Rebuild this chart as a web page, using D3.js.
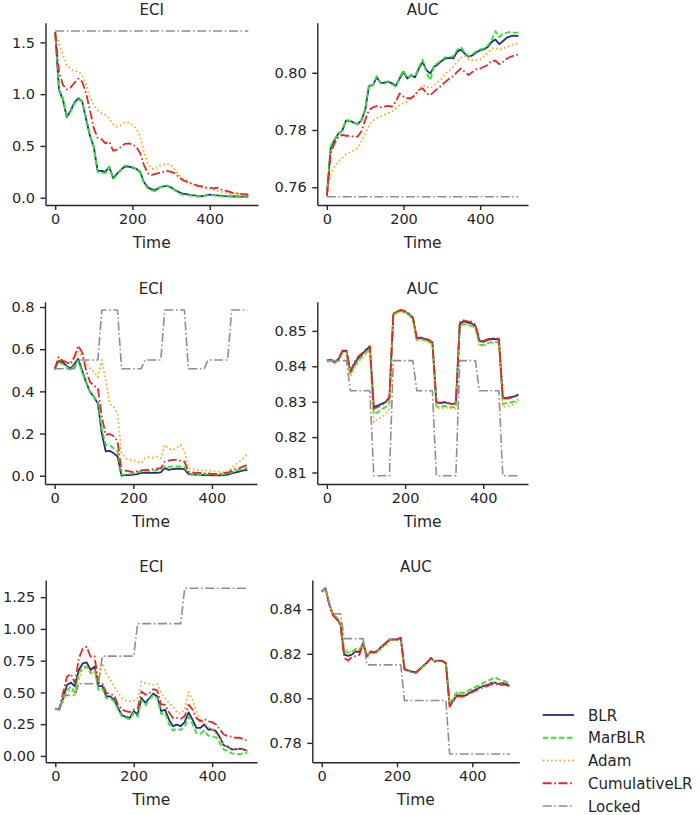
<!DOCTYPE html>
<html><head><meta charset="utf-8">
<script src="https://cdn.jsdelivr.net/npm/d3@7"></script>
<style>
body{margin:0;background:#fff}
svg{display:block}
text{font-family:"DejaVu Sans",sans-serif;fill:#262626}
</style>
</head><body>
<svg id="c" width="700" height="815"></svg>
<script>
// ---------- DATA ----------
const seriesNames = ["BLR","MarBLR","Adam","CumulativeLR","Locked"];
const time500 = [0,10,20,30,40,50,60,70,80,90,100,110,120,130,140,150,160,170,180,190,200,210,220,230,240,250,260,270,280,290,300,310,320,330,340,350,360,370,380,390,400,410,420,430,440,450,460,470,480,490,500];
const time490 = [0,10,20,30,40,50,60,70,80,90,100,110,120,130,140,150,160,170,180,190,200,210,220,230,240,250,260,270,280,290,300,310,320,330,340,350,360,370,380,390,400,410,420,430,440,450,460,470,480,490];
const xTicks = [0,200,400];
const panelTitles = ["ECI","AUC","ECI","AUC","ECI","AUC"];
const xLabel = "Time";

// Row 1 ECI
const eci1BLR = [1.60,1.04,0.95,0.78,0.84,0.92,0.96,0.93,0.76,0.60,0.49,0.26,0.26,0.25,0.30,0.19,0.23,0.27,0.30,0.30,0.29,0.28,0.25,0.15,0.10,0.08,0.075,0.10,0.11,0.115,0.10,0.075,0.055,0.04,0.035,0.025,0.022,0.016,0.016,0.022,0.03,0.025,0.022,0.02,0.016,0.013,0.013,0.012,0.011,0.01,0.01];
const eci1MarBLR = [1.60,1.05,0.96,0.79,0.83,0.91,0.95,0.93,0.77,0.61,0.49,0.25,0.24,0.24,0.30,0.18,0.22,0.27,0.31,0.31,0.30,0.28,0.24,0.14,0.09,0.07,0.065,0.10,0.11,0.12,0.10,0.07,0.045,0.03,0.025,0.02,0.015,0.012,0.012,0.02,0.026,0.022,0.02,0.016,0.013,0.012,0.012,0.013,0.015,0.017,0.02];
const eci1Adam = [1.60,1.49,1.38,1.28,1.24,1.225,1.22,1.18,1.09,0.975,0.895,0.845,0.815,0.80,0.765,0.71,0.685,0.70,0.725,0.725,0.70,0.67,0.59,0.445,0.33,0.28,0.28,0.31,0.32,0.33,0.315,0.27,0.22,0.185,0.165,0.145,0.12,0.105,0.097,0.09,0.08,0.08,0.068,0.058,0.05,0.04,0.04,0.038,0.035,0.035,0.035];
const eci1CumLR = [1.60,1.22,1.09,1.045,1.065,1.11,1.15,1.12,1.01,0.845,0.67,0.58,0.565,0.525,0.54,0.455,0.465,0.49,0.52,0.525,0.515,0.49,0.43,0.315,0.235,0.22,0.23,0.24,0.25,0.26,0.25,0.235,0.20,0.17,0.155,0.14,0.13,0.115,0.11,0.10,0.097,0.09,0.097,0.08,0.068,0.058,0.048,0.042,0.038,0.035,0.03];
const eci1Locked = [1.61,1.61,1.61,1.61,1.61,1.61,1.61,1.61,1.61,1.61,1.61,1.61,1.61,1.61,1.61,1.61,1.61,1.61,1.61,1.61,1.61,1.61,1.61,1.61,1.61,1.61,1.61,1.61,1.61,1.61,1.61,1.61,1.61,1.61,1.61,1.61,1.61,1.61,1.61,1.61,1.61,1.61,1.61,1.61,1.61,1.61,1.61,1.61,1.61,1.61,1.61];

// Row 1 AUC
const auc1BLR = [0.757,0.7737,0.7766,0.7787,0.7798,0.7833,0.7832,0.7826,0.7821,0.7833,0.787,0.7954,0.7957,0.7984,0.7965,0.7965,0.7969,0.7963,0.7954,0.798,0.8003,0.798,0.7992,0.7984,0.8015,0.8038,0.8009,0.7998,0.8021,0.803,0.8042,0.805,0.8052,0.805,0.8073,0.8081,0.8067,0.8056,0.8061,0.8071,0.8079,0.8082,0.809,0.8108,0.8116,0.81,0.8111,0.8123,0.8128,0.813,0.8128];
const auc1MarBLR = [0.757,0.7745,0.7768,0.7788,0.7797,0.7835,0.7833,0.7825,0.782,0.7835,0.7875,0.796,0.7955,0.7988,0.7963,0.7968,0.797,0.796,0.7952,0.7985,0.8008,0.7982,0.799,0.7988,0.802,0.8046,0.80,0.7974,0.8025,0.8035,0.8045,0.8055,0.8055,0.8058,0.808,0.809,0.807,0.8058,0.8065,0.8075,0.8082,0.8085,0.8095,0.8115,0.8146,0.8125,0.8137,0.814,0.8143,0.814,0.814];
const auc1Adam = [0.757,0.765,0.7673,0.769,0.7702,0.7714,0.7722,0.7729,0.7737,0.776,0.7789,0.7814,0.7833,0.7841,0.7847,0.7853,0.7859,0.7864,0.7876,0.7888,0.7893,0.7899,0.7911,0.7922,0.794,0.7957,0.7951,0.7946,0.7957,0.7969,0.798,0.7998,0.8009,0.8021,0.8038,0.8053,0.8058,0.8046,0.8044,0.8044,0.8046,0.8058,0.807,0.8085,0.8087,0.8081,0.8085,0.809,0.8096,0.81,0.8102];
const auc1CumLR = [0.757,0.772,0.7754,0.7775,0.7783,0.778,0.778,0.7777,0.7777,0.7795,0.7835,0.787,0.7879,0.7884,0.7879,0.7882,0.7884,0.7882,0.7899,0.7928,0.7917,0.7911,0.7911,0.7922,0.794,0.7946,0.7928,0.7922,0.7934,0.7946,0.7957,0.7969,0.798,0.7988,0.8003,0.8015,0.8003,0.7992,0.8003,0.8012,0.8015,0.8021,0.8027,0.8042,0.8042,0.803,0.8038,0.805,0.8056,0.8061,0.8064];
const auc1Locked = [0.7567,0.7567,0.7567,0.7567,0.7567,0.7567,0.7567,0.7567,0.7567,0.7567,0.7567,0.7567,0.7567,0.7567,0.7567,0.7567,0.7567,0.7567,0.7567,0.7567,0.7567,0.7567,0.7567,0.7567,0.7567,0.7567,0.7567,0.7567,0.7567,0.7567,0.7567,0.7567,0.7567,0.7567,0.7567,0.7567,0.7567,0.7567,0.7567,0.7567,0.7567,0.7567,0.7567,0.7567,0.7567,0.7567,0.7567,0.7567,0.7567,0.7567,0.7567];

// Row 2 ECI
const eci2BLR = [0.505,0.546,0.538,0.522,0.507,0.53,0.554,0.499,0.444,0.397,0.373,0.342,0.2,0.115,0.118,0.107,0.091,0.0,0.003,0.003,0.005,0.008,0.013,0.013,0.014,0.013,0.013,0.016,0.036,0.028,0.031,0.033,0.033,0.031,0.009,0.005,0.005,0.005,0.003,0.003,0.002,0.002,0.002,0.003,0.005,0.011,0.016,0.02,0.025,0.028];
const eci2MarBLR = [0.505,0.538,0.53,0.518,0.499,0.522,0.546,0.491,0.439,0.397,0.373,0.35,0.22,0.146,0.146,0.13,0.115,0.005,0.006,0.008,0.011,0.016,0.02,0.022,0.024,0.024,0.025,0.028,0.044,0.041,0.044,0.044,0.044,0.041,0.013,0.008,0.008,0.008,0.006,0.006,0.006,0.005,0.005,0.008,0.009,0.017,0.024,0.028,0.033,0.039];
const eci2Adam = [0.505,0.554,0.546,0.538,0.53,0.562,0.59,0.569,0.538,0.507,0.491,0.467,0.549,0.452,0.342,0.326,0.295,0.107,0.083,0.075,0.072,0.067,0.06,0.083,0.088,0.086,0.091,0.083,0.146,0.13,0.122,0.13,0.146,0.115,0.036,0.031,0.028,0.025,0.025,0.024,0.024,0.02,0.019,0.016,0.02,0.036,0.052,0.067,0.083,0.102];
const eci2CumLR = [0.505,0.562,0.546,0.538,0.53,0.562,0.616,0.585,0.499,0.444,0.428,0.413,0.279,0.193,0.198,0.188,0.162,0.025,0.024,0.021,0.017,0.022,0.025,0.028,0.028,0.031,0.033,0.036,0.067,0.072,0.075,0.075,0.072,0.067,0.02,0.016,0.013,0.013,0.011,0.011,0.009,0.009,0.009,0.013,0.013,0.025,0.031,0.036,0.044,0.052];
const eci2Locked = [0.507,0.507,0.507,0.507,0.507,0.507,0.549,0.549,0.549,0.549,0.549,0.549,0.786,0.786,0.786,0.786,0.786,0.507,0.507,0.507,0.507,0.507,0.507,0.549,0.549,0.549,0.549,0.549,0.786,0.786,0.786,0.786,0.786,0.786,0.507,0.507,0.507,0.507,0.507,0.549,0.549,0.549,0.549,0.549,0.549,0.786,0.786,0.786,0.786,0.786];

// Row 2 AUC
const auc2BLR = [0.8416,0.8418,0.8411,0.842,0.8442,0.8444,0.8383,0.8406,0.8423,0.8434,0.8446,0.8455,0.8285,0.8289,0.8294,0.8299,0.8313,0.8547,0.8554,0.8558,0.8554,0.8547,0.8537,0.8479,0.8481,0.8477,0.8474,0.8467,0.8299,0.8296,0.8299,0.8296,0.8294,0.8296,0.8519,0.8528,0.8523,0.8521,0.8514,0.8472,0.8469,0.8474,0.8477,0.8477,0.8476,0.8311,0.8311,0.8313,0.8315,0.832];
const auc2MarBLR = [0.8416,0.8417,0.841,0.8418,0.8438,0.844,0.8378,0.8398,0.8415,0.8428,0.8438,0.8448,0.8266,0.827,0.8278,0.8285,0.8298,0.8545,0.8552,0.8556,0.8552,0.8544,0.8533,0.8474,0.8477,0.8473,0.847,0.8462,0.8286,0.8285,0.8288,0.8286,0.8284,0.8285,0.8512,0.852,0.8516,0.8514,0.8508,0.8461,0.846,0.8465,0.8468,0.8469,0.8469,0.8294,0.8296,0.8298,0.8301,0.8306];
const auc2Adam = [0.8414,0.8415,0.8408,0.8416,0.8436,0.8438,0.8371,0.8392,0.841,0.8424,0.8434,0.8442,0.8242,0.8252,0.8256,0.8264,0.828,0.8543,0.8552,0.8557,0.8553,0.8545,0.8534,0.8472,0.8476,0.8472,0.8469,0.846,0.8283,0.8281,0.8284,0.8282,0.828,0.8281,0.851,0.8522,0.8518,0.8516,0.851,0.8458,0.8456,0.8462,0.8466,0.8467,0.8466,0.8285,0.8287,0.829,0.8295,0.8305];
const auc2CumLR = [0.8416,0.8419,0.8412,0.8422,0.8444,0.8446,0.8385,0.841,0.8427,0.8437,0.8448,0.8457,0.828,0.8285,0.8291,0.8297,0.8312,0.855,0.8556,0.8559,0.8556,0.8549,0.8538,0.848,0.8482,0.8478,0.8475,0.8468,0.8298,0.8296,0.8298,0.8296,0.8293,0.8295,0.8524,0.853,0.8527,0.8526,0.8518,0.8474,0.8471,0.8476,0.8479,0.8479,0.8478,0.8309,0.8309,0.8311,0.8314,0.8318];
const auc2Locked = [0.8416,0.8416,0.8416,0.8416,0.8416,0.8416,0.8331,0.8331,0.8331,0.8331,0.8331,0.8331,0.8091,0.8091,0.8091,0.8091,0.8091,0.8416,0.8416,0.8416,0.8416,0.8416,0.8416,0.8331,0.8331,0.8331,0.8331,0.8331,0.8091,0.8091,0.8091,0.8091,0.8091,0.8091,0.8416,0.8416,0.8416,0.8416,0.8416,0.8331,0.8331,0.8331,0.8331,0.8331,0.8331,0.8091,0.8091,0.8091,0.8091,0.8091];

// Row 3 ECI
const eci3BLR = [0.372,0.365,0.456,0.56,0.578,0.547,0.677,0.729,0.737,0.677,0.703,0.547,0.552,0.469,0.469,0.443,0.378,0.32,0.307,0.299,0.352,0.326,0.456,0.417,0.456,0.49,0.469,0.352,0.365,0.286,0.234,0.247,0.234,0.266,0.344,0.286,0.221,0.221,0.247,0.208,0.208,0.195,0.143,0.083,0.073,0.052,0.052,0.057,0.052,0.039];
const eci3MarBLR = [0.372,0.365,0.44,0.52,0.545,0.5,0.65,0.7,0.705,0.65,0.68,0.52,0.53,0.455,0.455,0.43,0.365,0.31,0.3,0.29,0.34,0.31,0.44,0.4,0.445,0.48,0.455,0.33,0.34,0.25,0.2,0.215,0.205,0.23,0.31,0.25,0.18,0.175,0.2,0.16,0.155,0.145,0.1,0.05,0.04,0.02,0.015,0.015,0.02,0.025];
const eci3Adam = [0.37,0.36,0.42,0.5,0.52,0.48,0.6,0.68,0.7,0.66,0.67,0.6,0.73,0.65,0.6,0.547,0.5,0.456,0.437,0.43,0.437,0.456,0.586,0.573,0.568,0.56,0.568,0.495,0.456,0.417,0.39,0.344,0.333,0.365,0.503,0.443,0.352,0.273,0.26,0.234,0.208,0.169,0.13,0.091,0.073,0.06,0.058,0.052,0.047,0.039];
const eci3CumLR = [0.372,0.37,0.5,0.625,0.646,0.573,0.768,0.846,0.859,0.781,0.786,0.573,0.573,0.495,0.49,0.474,0.404,0.365,0.352,0.344,0.365,0.372,0.508,0.482,0.495,0.526,0.516,0.404,0.404,0.344,0.299,0.299,0.292,0.312,0.404,0.365,0.299,0.273,0.292,0.273,0.266,0.247,0.208,0.169,0.156,0.151,0.143,0.143,0.135,0.117];
const eci3Locked = [0.372,0.372,0.477,0.477,0.477,0.477,0.568,0.568,0.568,0.568,0.568,0.568,0.786,0.786,0.786,0.786,0.786,0.786,0.786,0.786,0.786,1.042,1.042,1.042,1.042,1.042,1.042,1.042,1.042,1.042,1.042,1.042,1.042,1.32,1.32,1.32,1.32,1.32,1.32,1.32,1.32,1.32,1.32,1.32,1.32,1.32,1.32,1.32,1.32,1.32];

// Row 3 AUC
const auc3BLR = [0.8479,0.8494,0.8423,0.8375,0.8358,0.8332,0.8196,0.8191,0.8196,0.8211,0.8207,0.8249,0.8188,0.8211,0.8207,0.8216,0.8234,0.8249,0.8264,0.8264,0.8264,0.8272,0.8131,0.8125,0.812,0.8116,0.8131,0.8146,0.8161,0.8181,0.8166,0.8169,0.8169,0.8158,0.797,0.7992,0.8015,0.8012,0.8012,0.8022,0.8033,0.804,0.8049,0.8055,0.806,0.8068,0.8071,0.8065,0.8068,0.8065,0.8055];
const auc3MarBLR = [0.8479,0.8494,0.8425,0.838,0.8362,0.8338,0.8207,0.8205,0.821,0.8222,0.8218,0.8252,0.8192,0.8208,0.8205,0.8214,0.8232,0.8247,0.8262,0.8262,0.8262,0.827,0.8128,0.8122,0.8118,0.8114,0.8129,0.8144,0.816,0.8182,0.8166,0.8168,0.8168,0.8157,0.7975,0.8005,0.803,0.8025,0.8024,0.8035,0.8045,0.8052,0.806,0.807,0.8078,0.8085,0.8095,0.8085,0.808,0.8075,0.806];
const auc3Adam = [0.8479,0.8494,0.8426,0.8382,0.8365,0.8342,0.8226,0.8212,0.8208,0.8218,0.8215,0.8245,0.82,0.8205,0.8203,0.821,0.8225,0.824,0.8255,0.826,0.826,0.8268,0.8128,0.8122,0.8118,0.8113,0.8127,0.8142,0.8158,0.8178,0.8164,0.8166,0.8167,0.8156,0.7965,0.7995,0.802,0.8018,0.8018,0.8028,0.8038,0.8045,0.8053,0.8058,0.8064,0.807,0.8072,0.8066,0.8066,0.8062,0.8055];
const auc3CumLR = [0.8479,0.8494,0.8421,0.8372,0.8355,0.8328,0.8181,0.817,0.8185,0.819,0.8195,0.8245,0.8185,0.8208,0.8205,0.8214,0.8232,0.8247,0.8262,0.8264,0.8264,0.8272,0.813,0.8124,0.8119,0.8115,0.813,0.8145,0.816,0.818,0.8165,0.8168,0.8168,0.8157,0.7962,0.7988,0.801,0.8008,0.8008,0.8018,0.8028,0.8035,0.8044,0.805,0.8055,0.8062,0.8066,0.806,0.8062,0.806,0.8052];
const auc3Locked = [0.8479,0.8494,0.8425,0.838,0.838,0.838,0.8268,0.8268,0.8268,0.8268,0.8268,0.8268,0.815,0.815,0.815,0.815,0.815,0.815,0.815,0.815,0.815,0.815,0.799,0.799,0.799,0.799,0.799,0.799,0.799,0.799,0.799,0.799,0.799,0.799,0.775,0.775,0.775,0.775,0.775,0.775,0.775,0.775,0.775,0.775,0.775,0.775,0.775,0.775,0.775,0.775,0.775];

// Y tick values
const eciTicks1 = [0.0,0.5,1.0,1.5];
const aucTicks1 = [0.76,0.78,0.80];
const eciTicks2 = [0.0,0.2,0.4,0.6,0.8];
const aucTicks2 = [0.81,0.82,0.83,0.84,0.85];
const eciTicks3 = [0.00,0.25,0.50,0.75,1.00,1.25];
const aucTicks3 = [0.78,0.80,0.82,0.84];
const tickFormats = [".1f",".2f",".1f",".2f",".2f",".2f"];

// ---------- STYLE / LAYOUT ----------
const colors = ["#262b7e","#2ee62e","#ffa723","#e5262a","#8e8e8e"];
const dashes = [null,"5.5,2.6","1.6,2.6","9,2.6,1.6,2.6","9,2.6,1.6,2.6"];
const widths = [1.8,1.8,1.8,1.8,1.6];
const boxes = [
  {l:45.5,r:258,t:22.7,b:205},
  {l:317.3,r:528,t:22.7,b:205},
  {l:45,r:257,t:301.7,b:484},
  {l:317.3,r:528,t:301.7,b:484},
  {l:45.7,r:257,t:580,b:762.3},
  {l:312.3,r:519.3,t:580,b:762.3}
];

const panels = [
  {time:time500, series:[eci1BLR,eci1MarBLR,eci1Adam,eci1CumLR,eci1Locked], ticks:eciTicks1},
  {time:time500, series:[auc1BLR,auc1MarBLR,auc1Adam,auc1CumLR,auc1Locked], ticks:aucTicks1},
  {time:time490, series:[eci2BLR,eci2MarBLR,eci2Adam,eci2CumLR,eci2Locked], ticks:eciTicks2},
  {time:time490, series:[auc2BLR,auc2MarBLR,auc2Adam,auc2CumLR,auc2Locked], ticks:aucTicks2},
  {time:time490, series:[eci3BLR,eci3MarBLR,eci3Adam,eci3CumLR,eci3Locked], ticks:eciTicks3},
  {time:time500, series:[auc3BLR,auc3MarBLR,auc3Adam,auc3CumLR,auc3Locked], ticks:aucTicks3}
];

const svg = d3.select("#c");

function padded(lo, hi){ const p=(hi-lo)*0.05; return [lo-p, hi+p]; }

panels.forEach((p,i)=>{
  const bx = boxes[i];
  const xExt = d3.extent(p.time);
  const allVals = p.series.flat();
  const yExt = d3.extent(allVals);
  const x = d3.scaleLinear().domain(padded(xExt[0],xExt[1])).range([bx.l,bx.r]);
  const y = d3.scaleLinear().domain(padded(yExt[0],yExt[1])).range([bx.b,bx.t]);
  const g = svg.append("g");

  p.series.forEach((vals,k)=>{
    const line = d3.line().x((d,j)=>x(p.time[j])).y(d=>y(d));
    g.append("path").datum(vals)
      .attr("d",line)
      .attr("fill","none")
      .attr("stroke",colors[k])
      .attr("stroke-width",widths[k])
      .attr("stroke-dasharray",dashes[k])
      .attr("stroke-linejoin","round");
  });

  const ax = g.append("g").attr("transform",`translate(0,${bx.b})`)
    .call(d3.axisBottom(x).tickValues(xTicks).tickFormat(d3.format("d")).tickSize(5).tickSizeOuter(0).tickPadding(3.5));
  const ay = g.append("g").attr("transform",`translate(${bx.l},0)`)
    .call(d3.axisLeft(y).tickValues(p.ticks).tickFormat(d3.format(tickFormats[i])).tickSize(5).tickSizeOuter(0).tickPadding(5.5));
  [ax,ay].forEach(a=>{
    a.select(".domain").attr("stroke","#262626").attr("stroke-width",1.4);
    a.selectAll(".tick line").attr("stroke","#262626").attr("stroke-width",1.4);
    a.selectAll(".tick text").attr("fill","#262626").style("font-size","14.5px").style("font-family","DejaVu Sans");
  });

  g.append("text").attr("x",(bx.l+bx.r)/2).attr("y",bx.t-8)
    .attr("text-anchor","middle").style("font-size","15px").text(panelTitles[i]);
  g.append("text").attr("x",(bx.l+bx.r)/2).attr("y",bx.b+42.5)
    .attr("text-anchor","middle").style("font-size","15.5px").text(xLabel);
});

// legend
const lg = svg.append("g");
seriesNames.forEach((n,k)=>{
  const cy = 715 + k*22.75;
  lg.append("line").attr("x1",542.7).attr("x2",574).attr("y1",cy).attr("y2",cy)
    .attr("stroke",colors[k]).attr("stroke-width",widths[k]).attr("stroke-dasharray",dashes[k]);
  lg.append("text").attr("x",588).attr("y",cy+5.5).style("font-size","15px").text(n);
});
</script>
</body></html>
